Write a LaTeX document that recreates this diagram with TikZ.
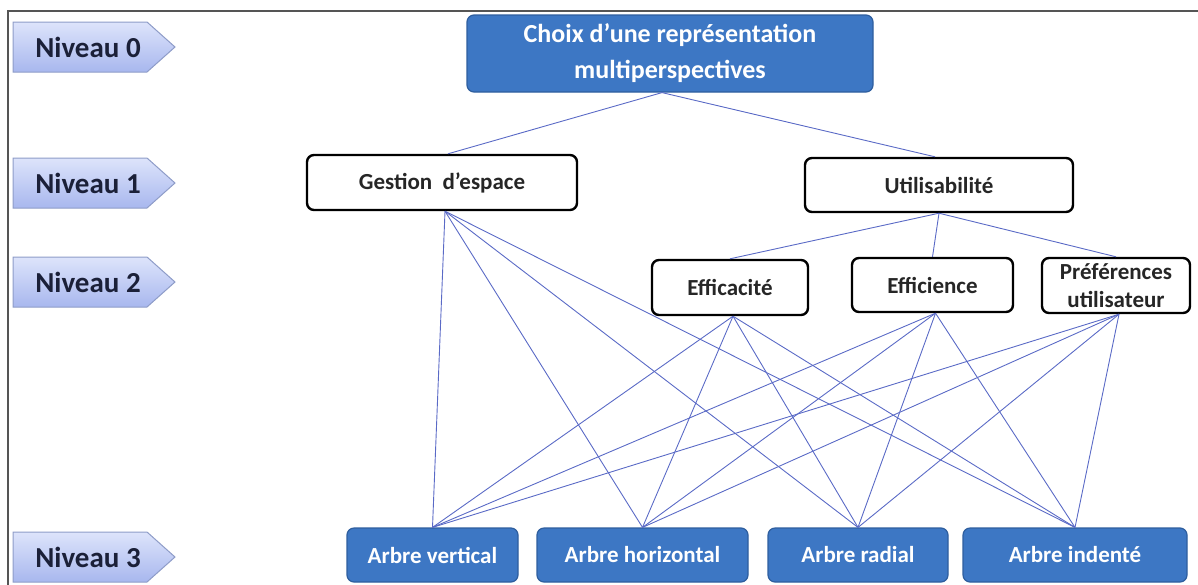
\documentclass[tikz,border=0pt]{standalone}
\usepackage{fontspec}
\setmainfont{Carlito}
\definecolor{boxblue}{HTML}{3D77C4}
\definecolor{boxblueedge}{HTML}{2E5E9E}
\definecolor{linkblue}{HTML}{5A6AC6}
\definecolor{nivtop}{HTML}{DDE4FB}
\definecolor{nivbot}{HTML}{A8B7EE}
\definecolor{nivedge}{HTML}{8E9CC8}
\definecolor{nivtextc}{HTML}{1B2038}
\definecolor{framegray}{HTML}{555555}
\tikzset{
  whitebox/.style={draw=black, line width=2.4pt, fill=white, rounded corners=7pt,
    font=\bfseries\fontsize{23}{28}\selectfont, text=black!85, align=center, inner sep=0pt},
  bluebox/.style={draw=boxblueedge, line width=1.2pt, fill=boxblue, rounded corners=7pt,
    font=\bfseries\fontsize{23}{28}\selectfont, text=white, align=center, inner sep=0pt},
  nivshape/.style={draw=nivedge, line width=1pt, top color=nivtop, bottom color=nivbot},
  nivtext/.style={font=\bfseries\fontsize{29}{34}\selectfont, text=nivtextc, inner sep=0pt},
  link/.style={draw=linkblue, line width=0.9pt},
  framestyle/.style={draw=framegray, line width=1.5pt}
}
\begin{document}
\begin{tikzpicture}[x=1pt,y=-1pt]
\useasboundingbox (0,0) rectangle (1198,584);
\draw[framestyle] (8,600) -- (8,11) -- (1210,11);

% level labels
\foreach \yy/\n in {47/0,183/1,282/2,557/3}{
  \path[nivshape] (13,\yy-25) -- (147,\yy-25) -- (175,\yy) -- (147,\yy+25) -- (13,\yy+25) -- cycle;
  \node[nivtext] (niv\n) at (88,\yy) {Niveau \n};
}

% level 0
\node[bluebox, minimum width=406pt, minimum height=77pt, font=\bfseries\fontsize{26}{36}\selectfont]
  (top) at (670,53.5) {Choix d'une représentation\\multiperspectives};

% level 1
\node[whitebox, minimum width=270pt, minimum height=55pt] (gest) at (442,182.5) {Gestion\ \ d’espace};
\node[whitebox, minimum width=268pt, minimum height=54pt] (util) at (939,185) {Utilisabilité};

% level 2
\node[whitebox, minimum width=156pt, minimum height=55pt] (effa) at (730,287.5) {Efficacité};
\node[whitebox, minimum width=161pt, minimum height=54pt] (effi) at (932.5,285) {Efficience};
\node[whitebox, minimum width=148pt, minimum height=55pt] (pref) at (1116,285.5) {Préférences\\utilisateur};

% level 3
\node[bluebox, minimum width=171pt, minimum height=54pt] (vert) at (432.5,555) {Arbre vertical};
\node[bluebox, minimum width=211pt, minimum height=54pt] (hori) at (642.5,555) {Arbre horizontal};
\node[bluebox, minimum width=180pt, minimum height=54pt] (radi) at (858,555) {Arbre radial};
\node[bluebox, minimum width=224pt, minimum height=54pt] (inde) at (1075,555) {Arbre indenté};

% connectors
\draw[link] ([xshift=-8pt]top.south) -- ([xshift=6pt]gest.north);
\draw[link] ([xshift=-8pt]top.south) -- ([xshift=-4pt]util.north);
\foreach \c in {effa,effi,pref}{
  \draw[link] (util.south) -- (\c.north);
}
\foreach \p in {gest,effa,effi,pref}{
  \foreach \c in {vert,hori,radi,inde}{
    \draw[link] ([xshift=3pt]\p.south) -- (\c.north);
  }
}
\end{tikzpicture}
\end{document}
